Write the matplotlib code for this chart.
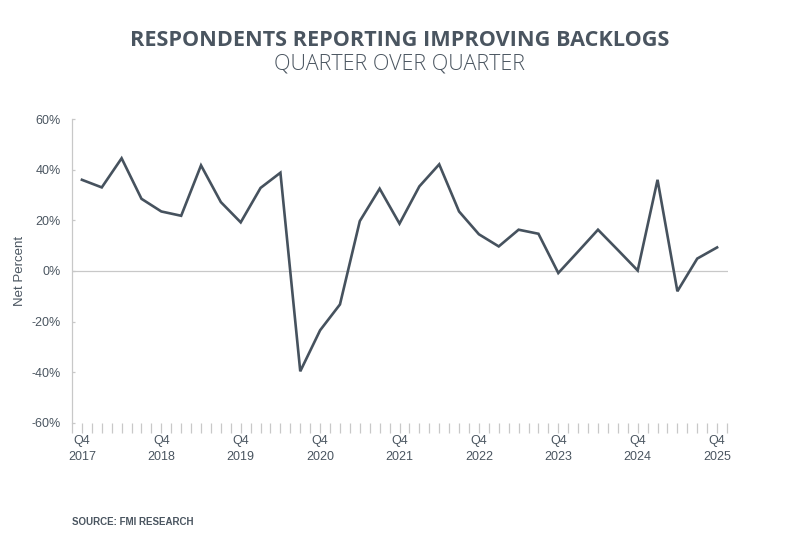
import numpy as np
import matplotlib
matplotlib.use("Agg")
import matplotlib.pyplot as plt
from matplotlib.ticker import MultipleLocator, FixedLocator

# quarterly net percent, Q4 2017 .. Q4 2025
quarters = [f"Q{(q % 4) + 1} {2017 + (q + 3) // 4}" for q in range(3, 36)]
net_pct = [36, 33, 44.5, 28.5, 23.5, 21.8, 41.7, 27.2, 19.2, 32.8, 38.8,
           -39.6, -23.4, -13.2, 19.7, 32.5, 18.7, 33.4, 42.1, 23.5, 14.5,
           9.7, 16.3, 14.7, -0.8, 7.7, 16.3, 8.3, 0.2, 36, -8, 4.9, 9.3]
label_years = ["2017", "2018", "2019", "2020", "2021", "2022", "2023", "2024", "2025"]
y_ticks = [-60, -40, -20, 0, 20, 40, 60]

dark = "#46525e"
grey = "#c8c8c8"
txt = "#4a5560"

plt.rcParams["font.family"] = ["Liberation Sans", "DejaVu Sans"]

fig = plt.figure(figsize=(8, 5.53), dpi=100)
ax = fig.add_axes([0.09, 0.2351, 0.82, 0.5497])

x = np.arange(len(net_pct))
ax.plot(x, net_pct, color=dark, lw=1.9, solid_joinstyle="miter", zorder=3)
ax.axhline(0, color=grey, lw=0.9, zorder=1)

ax.set_xlim(-0.5, 32.55)
ax.set_ylim(-60, 60)

for s in ["top", "right", "bottom"]:
    ax.spines[s].set_visible(False)
ax.spines["left"].set_color(grey)
ax.spines["left"].set_linewidth(0.9)

ax.set_yticks(y_ticks)
ax.set_yticklabels([f"{v}%" for v in y_ticks])
ax.tick_params(axis="y", direction="in", length=2.5, width=0.9, color=grey,
               labelsize=9, labelcolor=txt, pad=8)

major = list(range(0, 33, 4))
ax.xaxis.set_major_locator(FixedLocator(major))
ax.xaxis.set_minor_locator(MultipleLocator(0.5))
ax.set_xticklabels([f"Q4\n{y}" for y in label_years])
ax.tick_params(axis="x", which="both", direction="out", length=7, width=0.9,
               color=grey, labelsize=9, labelcolor=txt, pad=2)
for lab in ax.get_xticklabels():
    lab.set_linespacing(1.35)

ax.set_ylabel("Net Percent", fontsize=9.5, color=txt, labelpad=4)

fig.text(0.5, 0.927, "RESPONDENTS REPORTING IMPROVING BACKLOGS", ha="center", va="center",
         fontsize=15.6, fontweight="bold", color=txt, family=["Open Sans", "DejaVu Sans"])
fig.text(0.5, 0.884, "QUARTER OVER QUARTER", ha="center", va="center",
         fontsize=15.5, fontweight="light", color=txt, family=["Open Sans", "DejaVu Sans"])
fig.text(0.09, 0.056, "SOURCE: FMI RESEARCH", ha="left", va="center",
         fontsize=7, fontweight="bold", color=txt)

fig.savefig("out.png", dpi=100)
